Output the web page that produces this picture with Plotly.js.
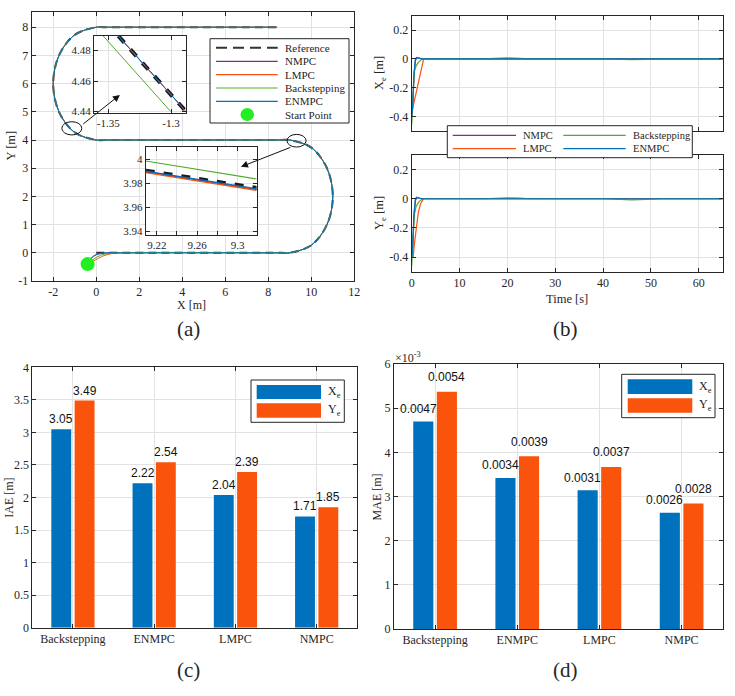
<!DOCTYPE html>
<html><head><meta charset="utf-8">
<script src="https://cdn.plot.ly/plotly-3.0.1.min.js"></script>
<style>html,body{margin:0;padding:0;background:#fff}#chart{width:735px;height:696px}</style>
</head><body><div id="chart"></div>
<script>
// ================= DATA =================
// (a) trajectory waypoints (reference path)
const pathX = [0, 8.6, 9, 10, 10.73, 11, 10.73, 10, 9, 8.6, 0.4, 0, -1, -1.73, -2, -1.73, -1, 0, 0.4, 8.4];
const pathY = [0, 0, 0, 0.27, 1, 2, 3, 3.73, 4, 4, 4, 4, 4.27, 5, 6, 7, 7.73, 8, 8, 8];
// transient from the start point for each controller
const startPoint = {x: [-0.4], y: [-0.4]};
const nmpcStartX = [-0.4, -0.25, 0, 0.3, 0.7, 1.2];
const nmpcStartY = [-0.4, -0.21, -0.07, -0.02, 0, 0];
const lmpcStartX = [-0.4, -0.1, 0.3, 0.7, 1.2];
const lmpcStartY = [-0.4, -0.28, -0.12, -0.03, 0];
const backStartX = [-0.4, -0.15, 0.2, 0.6, 1.2];
const backStartY = [-0.4, -0.24, -0.09, -0.02, 0];
const enmpcStartX = [-0.4, -0.25, 0, 0.3, 0.7, 1.2];
const enmpcStartY = [-0.4, -0.2, -0.06, -0.01, 0, 0];

// inset 1 (zoom near x=-1.32, y=4.46)
const in1RefX = [-1.342, -1.2888], in1RefY = [4.4896, 4.4407];
const in1NmpcX = [-1.342, -1.2888], in1NmpcY = [4.4897, 4.4408];
const in1LmpcX = [-1.342, -1.2888], in1LmpcY = [4.4895, 4.4406];
const in1BackX = [-1.354, -1.3003], in1BackY = [4.4896, 4.4400];
const in1EnmpcX = [-1.342, -1.2888], in1EnmpcY = [4.4896, 4.4407];
// inset 2 (zoom near x=9.26, y=3.985)
const in2RefX = [9.209, 9.319], in2RefY = [3.9905, 3.9760];
const in2NmpcX = [9.209, 9.319], in2NmpcY = [3.9896, 3.9747];
const in2LmpcX = [9.209, 9.319], in2LmpcY = [3.9889, 3.9740];
const in2BackX = [9.209, 9.319], in2BackY = [3.9986, 3.9835];
const in2EnmpcX = [9.209, 9.319], in2EnmpcY = [3.9900, 3.9754];

// (b) tracking errors
const tNmpc = [0, 0.2, 0.5, 0.8, 1.1, 1.5, 2.2, 65];
const xeNmpc = [-0.40, -0.34, -0.10, -0.01, 0.008, 0.004, 0, 0];
const yeNmpc = [-0.40, -0.34, -0.10, -0.01, 0.008, 0.004, 0, 0];
const tLmpcX = [0, 0.1, 2.5, 65];
const xeLmpc = [-0.40, -0.36, 0, 0];
const tLmpcY = [0, 0.3, 0.6, 1.0, 1.4, 1.9, 2.5, 65];
const yeLmpc = [-0.40, -0.40, -0.30, -0.19, -0.09, -0.03, 0, 0];
const tBack = [0, 0.1, 0.3, 0.55, 0.9, 1.4, 2.0, 2.6, 15, 17.5, 20, 22.5, 25, 40, 43, 46, 49, 52, 65];
const xeBack = [-0.46, -0.38, -0.20, -0.09, -0.05, -0.025, -0.006, 0, 0, 0.004, 0.006, 0.004, 0, 0, -0.004, -0.006, -0.004, 0, 0];
const yeBack = [-0.46, -0.38, -0.22, -0.11, -0.055, -0.025, -0.007, 0, 0, 0.004, 0.006, 0.004, 0, 0, -0.005, -0.008, -0.005, 0, 0];
const tEnmpc = [0, 0.15, 0.45, 0.75, 1.0, 1.4, 2.0, 65];
const xeEnmpc = [-0.40, -0.36, -0.12, -0.005, 0.01, 0.006, 0, 0];
const yeEnmpc = [-0.40, -0.36, -0.12, -0.005, 0.01, 0.006, 0, 0];

// (c), (d) bar charts
const methods = ['Backstepping', 'ENMPC', 'LMPC', 'NMPC'];
const iaeX = [3.05, 2.22, 2.04, 1.71];
const iaeY = [3.49, 2.54, 2.39, 1.85];
const maeX = [0.00470, 0.00342, 0.00314, 0.00263];
const maeY = [0.00537, 0.00391, 0.00367, 0.00284];

// ================= STYLE =================
const W = 735, H = 696;
const SERIF = 'Liberation Serif, Times New Roman, serif';
const SANS = 'Liberation Sans, Arial, sans-serif';
const C_NMPC = '#7E2F8E', C_LMPC = '#F9530C', C_BACK = '#52A92A', C_ENMPC = '#0072BD', C_REF = '#333333';
const C_START = '#22EE22';
const PX = v => v / W, PY = v => 1 - v / H;
const domX = (a, b) => [a / W, b / W];
const domY = (top, bottom) => [1 - bottom / H, 1 - top / H];
const baseAxis = {showline: true, linecolor: '#262626', linewidth: 1, mirror: 'ticks', ticks: 'inside', ticklen: 4,
  tickwidth: 1, tickcolor: '#262626', showgrid: true, gridcolor: '#e2e2e2', gridwidth: 1, zeroline: false,
  tickfont: {family: SERIF, size: 12, color: '#262626'}, fixedrange: true, automargin: false};
const axis = o => Object.assign({}, baseAxis, o);
const txt = arr => arr.map(v => String(v));

const line = (x, y, color, w, xa, ya, extra) => Object.assign({type: 'scatter', mode: 'lines', x, y, xaxis: xa, yaxis: ya,
  line: {color, width: w}, hoverinfo: 'skip'}, extra || {});
const spl = (x, y, color, w) => line(x, y, color, w, 'x', 'y', {line: {color, width: w, shape: 'spline', smoothing: 1}});

const pathTail = [pathX.slice(1), pathY.slice(1)];
const traces = [
  line(pathX, pathY, C_REF, 2, 'x', 'y', {line: {color: C_REF, width: 2, dash: '8px,5px', shape: 'spline', smoothing: 1}}),
  spl(nmpcStartX.concat(pathTail[0]), nmpcStartY.concat(pathTail[1]), C_NMPC, 1),
  spl(lmpcStartX.concat(pathTail[0]), lmpcStartY.concat(pathTail[1]), C_LMPC, 1),
  spl(backStartX.concat(pathTail[0]), backStartY.concat(pathTail[1]), C_BACK, 1),
  spl(enmpcStartX.concat(pathTail[0]), enmpcStartY.concat(pathTail[1]), C_ENMPC, 1),
  {type: 'scatter', mode: 'markers', x: startPoint.x, y: startPoint.y, xaxis: 'x', yaxis: 'y',
   marker: {color: C_START, size: 14, line: {width: 0}}, hoverinfo: 'skip'},
  // inset 1
  line(in1RefX, in1RefY, '#1a1a1a', 4, 'x2', 'y2', {line: {color: '#1a1a1a', width: 4, dash: '9px,9px'}}),
  line(in1NmpcX, in1NmpcY, C_NMPC, 1, 'x2', 'y2'),
  line(in1LmpcX, in1LmpcY, C_LMPC, 1, 'x2', 'y2'),
  line(in1BackX, in1BackY, C_BACK, 1, 'x2', 'y2'),
  line(in1EnmpcX, in1EnmpcY, C_ENMPC, 1, 'x2', 'y2'),
  // inset 2
  line(in2RefX, in2RefY, '#1a1a1a', 4, 'x3', 'y3', {line: {color: '#1a1a1a', width: 4, dash: '9px,9px'}}),
  line(in2NmpcX, in2NmpcY, C_NMPC, 1.3, 'x3', 'y3'),
  line(in2LmpcX, in2LmpcY, C_LMPC, 1.3, 'x3', 'y3'),
  line(in2BackX, in2BackY, C_BACK, 1.1, 'x3', 'y3'),
  line(in2EnmpcX, in2EnmpcY, C_ENMPC, 1.3, 'x3', 'y3'),
  // (b) Xe
  line(tNmpc, xeNmpc, C_NMPC, 1.2, 'x4', 'y4'),
  line(tLmpcX, xeLmpc, C_LMPC, 1.2, 'x4', 'y4'),
  line(tBack, xeBack, C_BACK, 1.2, 'x4', 'y4'),
  line(tEnmpc, xeEnmpc, C_ENMPC, 1.2, 'x4', 'y4'),
  // (b) Ye
  line(tNmpc, yeNmpc, C_NMPC, 1.2, 'x5', 'y5'),
  line(tLmpcY, yeLmpc, C_LMPC, 1.2, 'x5', 'y5'),
  line(tBack, yeBack, C_BACK, 1.2, 'x5', 'y5'),
  line(tEnmpc, yeEnmpc, C_ENMPC, 1.2, 'x5', 'y5'),
];
// bars: explicit offsets (category units)
const BAR_W = 0.245, BAR_GAP = 0.042;
const bar = (y, color, xa, ya, offset) => ({type: 'bar', x: methods, y, xaxis: xa, yaxis: ya, marker: {color, line: {width: 0}},
  width: BAR_W, offset, hoverinfo: 'skip'});
const offXe = -(BAR_W + BAR_GAP / 2), offYe = BAR_GAP / 2;
traces.push(bar(iaeX, C_ENMPC, 'x6', 'y6', offXe), bar(iaeY, C_LMPC, 'x6', 'y6', offYe));
traces.push(bar(maeX, C_ENMPC, 'x7', 'y7', offXe), bar(maeY, C_LMPC, 'x7', 'y7', offYe));

// ================= LAYOUT =================
const in1R = {x: [-1.3614, -1.2883], y: [4.439, 4.4896]};
const in2R = {x: [9.209, 9.319], y: [3.9367, 4.0105]};
const small = {family: SERIF, size: 11, color: '#262626'};

const layout = {
  width: W, height: H, margin: {l: 0, r: 0, t: 0, b: 0}, paper_bgcolor: '#fff', plot_bgcolor: '#fff',
  showlegend: false, hovermode: false, barmode: 'overlay',
  xaxis: axis({domain: domX(31.7, 354.3), range: [-3, 12], tickvals: [-2, 0, 2, 4, 6, 8, 10, 12], ticktext: txt([-2, 0, 2, 4, 6, 8, 10, 12]), anchor: 'y'}),
  yaxis: axis({domain: domY(12.3, 281), range: [-1, 8.53], tickvals: [-1, 0, 1, 2, 3, 4, 5, 6, 7, 8], ticktext: txt([-1, 0, 1, 2, 3, 4, 5, 6, 7, 8]), anchor: 'x'}),
  xaxis2: axis({domain: domX(94, 185.7), range: in1R.x, tickvals: [-1.35, -1.3], ticktext: ['-1.35', '-1.3'], anchor: 'y2', tickfont: small}),
  yaxis2: axis({domain: domY(36, 113), range: in1R.y, tickvals: [4.44, 4.46, 4.48], ticktext: ['4.44', '4.46', '4.48'], anchor: 'x2', tickfont: small}),
  xaxis3: axis({domain: domX(145.7, 256.7), range: in2R.x, tickvals: [9.22, 9.24, 9.26, 9.28, 9.3], ticktext: ['9.22', '', '9.26', '', '9.3'], anchor: 'y3', tickfont: small}),
  yaxis3: axis({domain: domY(146.7, 235), range: in2R.y, tickvals: [3.94, 3.96, 3.98, 4], ticktext: ['3.94', '3.96', '3.98', '4'], anchor: 'x3', tickfont: small}),
  xaxis4: axis({domain: domX(411.7, 722.7), range: [0, 65], tickvals: [0, 10, 20, 30, 40, 50, 60], showticklabels: false, anchor: 'y4'}),
  yaxis4: axis({domain: domY(15.7, 130.7), range: [-0.5, 0.3], tickvals: [-0.4, -0.2, 0, 0.2], ticktext: ['-0.4', '-0.2', '0', '0.2'], anchor: 'x4'}),
  xaxis5: axis({domain: domX(411.7, 722.7), range: [0, 65], tickvals: [0, 10, 20, 30, 40, 50, 60], ticktext: txt([0, 10, 20, 30, 40, 50, 60]), anchor: 'y5'}),
  yaxis5: axis({domain: domY(155, 271.7), range: [-0.5, 0.3], tickvals: [-0.4, -0.2, 0, 0.2], ticktext: ['-0.4', '-0.2', '0', '0.2'], anchor: 'x5'}),
  xaxis6: axis({domain: domX(32.3, 357.3), type: 'category', range: [-0.5, 3.5], anchor: 'y6'}),
  yaxis6: axis({domain: domY(367.3, 627.7), range: [0, 4], tickvals: [0, 0.5, 1, 1.5, 2, 2.5, 3, 3.5, 4], ticktext: txt([0, 0.5, 1, 1.5, 2, 2.5, 3, 3.5, 4]), anchor: 'x6'}),
  xaxis7: axis({domain: domX(394, 722.7), type: 'category', range: [-0.5, 3.5], anchor: 'y7'}),
  yaxis7: axis({domain: domY(364, 629), range: [0, 0.006], tickvals: [0, 0.001, 0.002, 0.003, 0.004, 0.005, 0.006], ticktext: ['0', '1', '2', '3', '4', '5', '6'], anchor: 'x7'}),
  shapes: [], annotations: []
};
const S = layout.shapes, A = layout.annotations;
// inset backgrounds
S.push({type: 'rect', xref: 'x2', yref: 'y2', x0: in1R.x[0], x1: in1R.x[1], y0: in1R.y[0], y1: in1R.y[1], layer: 'below', fillcolor: '#fff', line: {width: 0}});
S.push({type: 'rect', xref: 'x3', yref: 'y3', x0: in2R.x[0], x1: in2R.x[1], y0: in2R.y[0], y1: in2R.y[1], layer: 'below', fillcolor: '#fff', line: {width: 0}});
// ellipses marking zoomed regions
S.push({type: 'circle', xref: 'x', yref: 'y', x0: -1.60, x1: -0.67, y0: 4.18, y1: 4.65, line: {color: '#111', width: 1}, layer: 'above'});
S.push({type: 'circle', xref: 'x', yref: 'y', x0: 8.87, x1: 9.76, y0: 3.75, y1: 4.20, line: {color: '#111', width: 1}, layer: 'above'});
// arrows
const arrow = (hx, hy, tx, ty) => ({xref: 'x', yref: 'y', axref: 'x', ayref: 'y', x: hx, y: hy, ax: tx, ay: ty, text: '', showarrow: true,
  arrowhead: 2, arrowsize: 1.4, arrowwidth: 1, arrowcolor: '#111'});
A.push(arrow(1.10, 5.60, -0.67, 4.53), arrow(6.73, 3.05, 9.10, 3.76));

// bar value labels (drawn as annotations above each bar, on top of all bars)
const barLabels = (vals, xa, ya, offset, digits, xshift, yshift) => vals.forEach((v, i) => A.push({
  xref: xa, yref: ya, x: i + offset + BAR_W / 2, y: v, text: v.toFixed(digits), showarrow: false,
  xanchor: 'center', yanchor: 'bottom', xshift, yshift, font: {family: SANS, size: 12, color: '#111'}}));
barLabels(iaeX, 'x6', 'y6', offXe, 2, 0, 1);
barLabels(iaeY, 'x6', 'y6', offYe, 2, 0, 1);
barLabels(maeX, 'x7', 'y7', offXe, 4, -5, 3.5);
barLabels(maeY, 'x7', 'y7', offYe, 4, 0, 5.5);

// legend helpers (paper pixel coords)
const box = (l, t, r, b) => ({type: 'rect', xref: 'paper', yref: 'paper', x0: PX(l), x1: PX(r), y0: PY(b), y1: PY(t), fillcolor: '#fff', line: {color: '#262626', width: 1}, layer: 'above'});
const seg = (x0, x1, y, color, w, dash) => ({type: 'line', xref: 'paper', yref: 'paper', x0: PX(x0), x1: PX(x1), y0: PY(y), y1: PY(y), line: {color, width: w, dash: dash || 'solid'}, layer: 'above'});
const swatch = (l, t, r, b, color) => ({type: 'rect', xref: 'paper', yref: 'paper', x0: PX(l), x1: PX(r), y0: PY(b), y1: PY(t), fillcolor: color, line: {width: 0}, layer: 'above'});
const label = (x, y, text, size, anchor, extra) => Object.assign({xref: 'paper', yref: 'paper', x: PX(x), y: PY(y), text, showarrow: false,
  xanchor: anchor || 'left', yanchor: 'middle', font: {family: SERIF, size: size, color: '#262626'}}, extra || {});

// (a) legend
S.push(box(210, 38.7, 349, 123));
const aRows = [47.7, 61.3, 74.7, 88, 101.3, 114.5];
S.push(seg(216, 277.7, aRows[0], C_REF, 2, '11px,6px'));
S.push(seg(216, 277.7, aRows[1], C_NMPC, 1.2));
S.push(seg(216, 277.7, aRows[2], C_LMPC, 1.2));
S.push(seg(216, 277.7, aRows[3], C_BACK, 1.2));
S.push(seg(216, 277.7, aRows[4], C_ENMPC, 1.2));
S.push({type: 'circle', xref: 'paper', yref: 'paper', x0: PX(240.5), x1: PX(254), y0: PY(aRows[5] + 6.5), y1: PY(aRows[5] - 6.5), fillcolor: C_START, line: {width: 0}, layer: 'above'});
['Reference', 'NMPC', 'LMPC', 'Backstepping', 'ENMPC', 'Start Point'].forEach((t, i) => A.push(label(283, aRows[i], t, 11)));

// (b) legend
S.push(box(447.3, 125.7, 692.3, 157.7));
S.push(seg(452.7, 516, 135.3, C_NMPC, 1.2), seg(452.7, 516, 148.7, C_LMPC, 1.2));
S.push(seg(563.3, 625.7, 135.3, C_BACK, 1.2), seg(563.3, 625.7, 148.7, C_ENMPC, 1.2));
A.push(label(520.5, 135.3, 'NMPC', 10.5), label(520.5, 148.7, 'LMPC', 10.5), label(631, 135.3, 'Backstepping', 10.5), label(631, 148.7, 'ENMPC', 10.5));

// (c) legend
S.push(box(251, 380, 344.3, 422.3));
S.push(swatch(256.7, 385, 321, 399, C_ENMPC), swatch(256.7, 403.3, 321, 417.7, C_LMPC));
A.push(label(325.5, 392, 'X<sub>e</sub>', 12), label(325.5, 410.5, 'Y<sub>e</sub>', 12));
// (d) legend
S.push(box(621.7, 374.3, 715, 417.7));
S.push(swatch(627.7, 379.3, 692.3, 394, C_ENMPC), swatch(627.7, 398.3, 692.3, 412.7, C_LMPC));
A.push(label(696.5, 386.5, 'X<sub>e</sub>', 12), label(696.5, 405.5, 'Y<sub>e</sub>', 12));

// axis titles
A.push(label(191.7, 305, 'X [m]', 12, 'center'));
A.push(label(10.5, 146, 'Y [m]', 12.5, 'center', {textangle: -90}));
A.push(label(380, 73, 'X<sub>e</sub> [m]', 12.5, 'center', {textangle: -90}));
A.push(label(380, 213, 'Y<sub>e</sub> [m]', 12.5, 'center', {textangle: -90}));
A.push(label(566.7, 298.5, 'Time [s]', 12.5, 'center'));
A.push(label(9, 497.7, 'IAE [m]', 12, 'center', {textangle: -90}));
A.push(label(376.7, 496.7, 'MAE [m]', 12, 'center', {textangle: -90}));
A.push(label(393, 357, '\u00d710<sup>-3</sup>', 12, 'left'));
// panel labels
A.push(label(189, 329, '(a)', 21, 'center'), label(565, 329, '(b)', 21, 'center'), label(189, 670, '(c)', 21, 'center'), label(565, 670, '(d)', 21, 'center'));

Plotly.newPlot('chart', traces, layout, {staticPlot: true, displayModeBar: false});
</script>
</body></html>
